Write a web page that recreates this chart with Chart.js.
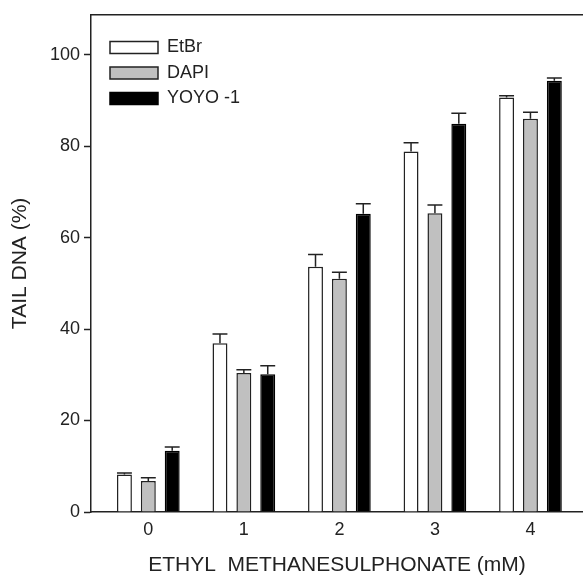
<!DOCTYPE html>
<html>
<head>
<meta charset="utf-8">
<title>Tail DNA vs EMS</title>
<script src="https://cdn.jsdelivr.net/npm/chart.js@4.4.1/dist/chart.umd.min.js"></script>
<style>
    html, body { margin: 0; padding: 0; background: #fff; }
    #wrap { width: 583px; height: 576px; position: relative; }
</style>
</head>
<body>
<div id="wrap"><canvas id="chart"></canvas></div>
<script>
// Data
const doses = [0, 1, 2, 3, 4];
const yTicks = [0, 20, 40, 60, 80, 100];

const etbr = [8.2, 36.9, 53.6, 78.8, 90.6];
const etbrErr = [0.3, 2.0, 2.7, 1.9, 0.4];

const dapi = [6.8, 30.4, 51.0, 65.3, 86.0];
const dapiErr = [0.7, 0.7, 1.4, 1.8, 1.4];

const yoyo = [13.4, 30.1, 65.2, 84.9, 94.3];
const yoyoErr = [0.8, 1.9, 2.2, 2.3, 0.6];

const FONT = "'Liberation Sans', Arial, Helvetica, sans-serif";
const INK = '#222';

function points(values) {
    return doses.map((d, i) => ({ x: d, y: values[i] }));
}

// error bars (upper only), drawn from the bar elements
const errorBars = {
    id: 'errorBars',
    afterDatasetsDraw(chart) {
        const ctx = chart.ctx;
        const y = chart.scales.y;
        ctx.save();
        ctx.strokeStyle = INK;
        ctx.lineWidth = 1.5;
        chart.data.datasets.forEach((ds, di) => {
            const meta = chart.getDatasetMeta(di);
            meta.data.forEach((bar, i) => {
                const top = y.getPixelForValue(ds.data[i].y + ds.errors[i]);
                const half = bar.width / 2;
                ctx.beginPath();
                ctx.moveTo(bar.x, bar.y);
                ctx.lineTo(bar.x, top);
                ctx.moveTo(bar.x - half, top);
                ctx.lineTo(bar.x + half, top);
                ctx.stroke();
            });
        });
        ctx.restore();
    }
};

// top edge of the frame
const frameTop = {
    id: 'frameTop',
    afterDraw(chart) {
        const { ctx, chartArea } = chart;
        ctx.save();
        ctx.strokeStyle = INK;
        ctx.lineWidth = 1.5;
        ctx.beginPath();
        ctx.moveTo(chartArea.left, chartArea.top);
        ctx.lineTo(chartArea.right, chartArea.top);
        ctx.stroke();
        ctx.restore();
    }
};

// nudge the in-plot legend to where the figure has it
const legendNudge = {
    id: 'legendNudge',
    afterLayout(chart) {
        if (chart.legend) {
            chart.legend.left += 11.5;
            chart.legend.top += 31;
        }
    }
};

new Chart(document.getElementById('chart'), {
    type: 'bar',
    data: {
        datasets: [
            { label: 'EtBr', data: points(etbr), errors: etbrErr,
              backgroundColor: '#ffffff', borderColor: INK, borderWidth: 1.5 },
            { label: 'DAPI', data: points(dapi), errors: dapiErr,
              backgroundColor: '#c0c0c0', borderColor: INK, borderWidth: 1.5 },
            { label: 'YOYO -1', data: points(yoyo), errors: yoyoErr,
              backgroundColor: '#000000', borderColor: '#000000', borderWidth: 1.5 }
        ]
    },
    options: {
        responsive: true,
        maintainAspectRatio: false,
        animation: false,
        categoryPercentage: 0.75,
        barPercentage: 0.625,
        layout: { padding: { top: 12, right: 0, left: 0, bottom: 0 } },
        plugins: {
            legend: {
                position: 'chartArea',
                align: 'start',
                labels: {
                    boxWidth: 48,
                    boxHeight: 12,
                    padding: 7.5,
                    color: INK,
                    font: { family: FONT, size: 18 }
                }
            },
            tooltip: { enabled: false }
        },
        scales: {
            x: {
                type: 'linear',
                offset: false,
                min: -0.6,
                max: 4.55,
                afterBuildTicks: (axis) => { axis.ticks = doses.map(v => ({ value: v })); },
                afterFit: (axis) => { axis.height = 64; },
                grid: { display: false, drawTicks: false },
                border: { display: true, color: INK, width: 1.5 },
                ticks: {
                    padding: 7,
                    color: INK,
                    font: { family: FONT, size: 18 }
                },
                title: {
                    display: true,
                    text: 'ETHYL  METHANESULPHONATE (mM)',
                    color: INK,
                    font: { family: FONT, size: 21, lineHeight: 1 },
                    padding: { top: 0, bottom: 0 }
                }
            },
            y: {
                min: 0,
                max: 108.7,
                afterBuildTicks: (axis) => { axis.ticks = yTicks.map(v => ({ value: v })); },
                afterFit: (axis) => { axis.width = 91; },
                grid: {
                    drawOnChartArea: false,
                    drawTicks: true,
                    tickLength: 7,
                    tickColor: INK,
                    tickWidth: 1.5
                },
                border: { display: true, color: INK, width: 1.5 },
                ticks: {
                    padding: 4,
                    color: INK,
                    font: { family: FONT, size: 18 }
                },
                title: {
                    display: true,
                    text: 'TAIL DNA (%)',
                    color: INK,
                    font: { family: FONT, size: 21, lineHeight: 1 },
                    padding: { top: 10, bottom: 0 }
                }
            }
        }
    },
    plugins: [errorBars, frameTop, legendNudge]
});
</script>
</body>
</html>
